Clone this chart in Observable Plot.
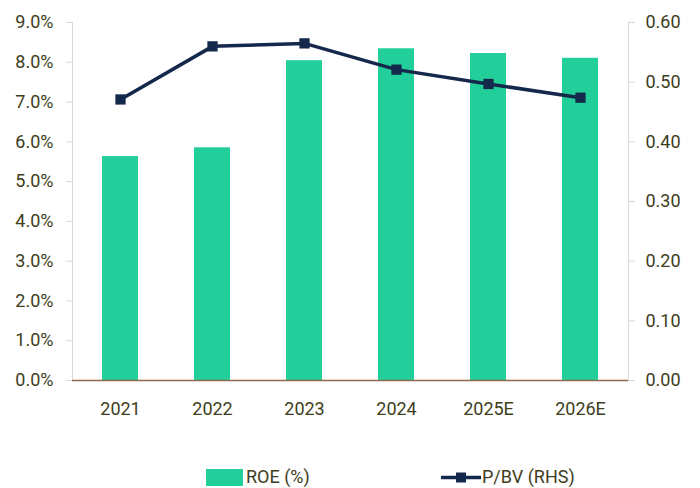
<!DOCTYPE html>
<html>
<head>
<meta charset="utf-8">
<script src="https://cdn.jsdelivr.net/npm/d3@7"></script>
<script src="https://cdn.jsdelivr.net/npm/@observablehq/plot@0.6"></script>
<style>
  body { margin: 0; background: #fff; font-family: Roboto, sans-serif; }
  #wrap { position: relative; width: 700px; height: 488px; }
  .leg { position: absolute; font-size: 18px; color: #3e3d1c; display: flex; align-items: center; line-height: 1; }
</style>
</head>
<body>
<div id="wrap"></div>
<script>
const years = ["2021", "2022", "2023", "2024", "2025E", "2026E"];
const roe = [5.63, 5.85, 8.04, 8.34, 8.22, 8.10];      // ROE (%), left axis
const pbv = [0.471, 0.560, 0.565, 0.521, 0.497, 0.474]; // P/BV, right axis
const leftTicks = [0, 1, 2, 3, 4, 5, 6, 7, 8, 9];
const rightTicks = [0, 0.1, 0.2, 0.3, 0.4, 0.5, 0.6];

const ratio = 9 / 0.6; // right axis mapped onto left
const data = years.map((y, i) => ({year: y, roe: roe[i], pbv: pbv[i], pbvScaled: pbv[i] * ratio}));

const textColor = "#3e3d1c";
const green = "#22CF9A";
const navy = "#14284B";
const axisGray = "#d9d9d9";

const chart = Plot.plot({
  width: 700,
  height: 445,
  marginTop: 22,
  marginBottom: 65,
  marginLeft: 72,
  marginRight: 72,
  style: {fontFamily: "Roboto, sans-serif", fontSize: "18px", color: textColor, background: "transparent"},
  x: {domain: years, padding: 0},
  y: {domain: [0, 9]},
  marks: [
    Plot.frame({anchor: "left", stroke: axisGray}),
    Plot.frame({anchor: "right", stroke: axisGray}),
    Plot.axisY({
      ticks: leftTicks, tickSize: 6, tickPadding: 13, stroke: axisGray,
      tickFormat: d => d.toFixed(1) + "%", label: null, fill: textColor
    }),
    Plot.axisY({
      anchor: "right", ticks: rightTicks.map(t => t * ratio), tickSize: 6, tickPadding: 11, stroke: axisGray,
      tickFormat: d => (d / ratio).toFixed(2), label: null, fill: textColor
    }),
    Plot.axisX({tickSize: 0, tickPadding: 22, label: null, fill: textColor}),
    Plot.barY(data, {x: "year", y: "roe", fill: green, insetLeft: 28, insetRight: 28}),
    Plot.ruleY([0], {stroke: "#8d6a4c", strokeWidth: 1.5}),
    Plot.line(data, {x: "year", y: "pbvScaled", stroke: navy, strokeWidth: 3.5}),
    Plot.dot(data, {x: "year", y: "pbvScaled", symbol: "square", r: 5.8, fill: navy, stroke: "none"})
  ]
});
chart.style.position = "absolute";
chart.style.left = "0px";
chart.style.top = "0px";
const wrap = document.getElementById("wrap");
wrap.appendChild(chart);

const leg1 = document.createElement("div");
leg1.className = "leg";
leg1.style.left = "206px";
leg1.style.top = "468px";
leg1.innerHTML = `<svg width="37" height="17" style="margin-right:3px"><rect width="37" height="17" fill="${green}"/></svg><span>ROE (%)</span>`;
wrap.appendChild(leg1);

const leg2 = document.createElement("div");
leg2.className = "leg";
leg2.style.left = "441px";
leg2.style.top = "468px";
leg2.innerHTML = `<svg width="40" height="17" style="margin-right:1px"><line x1="1" x2="39" y1="8.5" y2="8.5" stroke="${navy}" stroke-width="3.5" stroke-linecap="round"/><rect x="15" y="3.5" width="10" height="10" fill="${navy}"/></svg><span>P/BV (RHS)</span>`;
wrap.appendChild(leg2);
</script>
</body>
</html>
